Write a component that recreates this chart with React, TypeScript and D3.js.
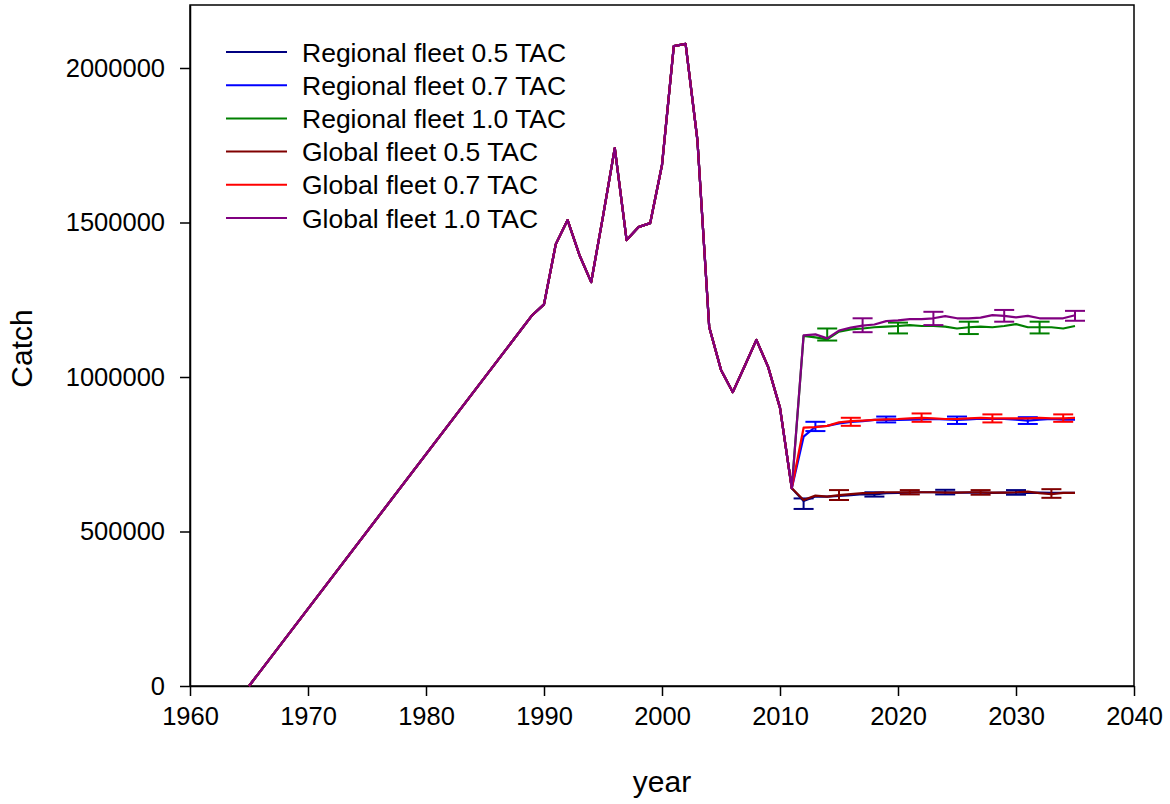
import React, { useEffect, useRef } from 'react';
import * as d3 from 'd3';

// historical catch, shared by every scenario
const histYears = [1965, 1989, 1990, 1991, 1992, 1993, 1994, 1995, 1996, 1997, 1998, 1999, 2000, 2001, 2002, 2003, 2004, 2005, 2006, 2007, 2008, 2009, 2010, 2011];
const histCatch = [0, 1200000, 1235000, 1430000, 1508000, 1395000, 1307000, 1520000, 1741000, 1443000, 1485000, 1498000, 1686000, 2071000, 2078000, 1767000, 1162000, 1023000, 951000, 1035000, 1120000, 1032000, 900000, 640000];

// projection years 2012..2035
const projYears = [2012, 2013, 2014, 2015, 2016, 2017, 2018, 2019, 2020, 2021, 2022, 2023, 2024, 2025, 2026, 2027, 2028, 2029, 2030, 2031, 2032, 2033, 2034, 2035];

const regional05 = [599000, 613000, 613000, 615000, 618000, 621000, 620000, 624000, 625000, 626000, 627000, 627000, 627000, 626000, 626000, 626000, 625000, 626000, 626000, 625000, 626000, 625000, 625000, 625000];
const regional07 = [807000, 839000, 842000, 850000, 855000, 857000, 861000, 862000, 861000, 862000, 863000, 864000, 863000, 861000, 863000, 865000, 864000, 864000, 862000, 859000, 862000, 864000, 862000, 862000];
const regional10 = [1133000, 1128000, 1122000, 1147000, 1154000, 1157000, 1161000, 1163000, 1165000, 1168000, 1165000, 1165000, 1163000, 1157000, 1161000, 1163000, 1161000, 1165000, 1171000, 1161000, 1161000, 1161000, 1157000, 1165000];
const global05 = [602000, 616000, 613000, 618000, 621000, 624000, 625000, 627000, 627000, 627000, 627000, 627000, 626000, 626000, 627000, 627000, 626000, 626000, 627000, 629000, 624000, 621000, 625000, 625000];
const global07 = [836000, 838000, 842000, 853000, 857000, 859000, 861000, 863000, 864000, 866000, 868000, 866000, 864000, 864000, 866000, 868000, 866000, 866000, 866000, 866000, 868000, 866000, 866000, 868000];
const global10 = [1135000, 1138000, 1125000, 1150000, 1160000, 1166000, 1170000, 1181000, 1183000, 1187000, 1187000, 1190000, 1197000, 1190000, 1190000, 1192000, 1200000, 1198000, 1193000, 1198000, 1190000, 1190000, 1190000, 1200000];

// error bars: [year, low, high]
const regional05Err = [[2012, 573000, 607000], [2018, 613000, 627000], [2024, 620000, 635000], [2030, 619000, 634000]];
const regional07Err = [[2013, 825000, 855000], [2019, 853000, 872000], [2025, 848000, 872000], [2031, 848000, 870000]];
const regional10Err = [[2014, 1118000, 1157000], [2020, 1141000, 1176000], [2026, 1139000, 1179000], [2032, 1141000, 1179000]];
const global05Err = [[2015, 602000, 634000], [2021, 620000, 634000], [2027, 619000, 634000], [2033, 609000, 637000]];
const global07Err = [[2016, 842000, 868000], [2022, 855000, 882000], [2028, 853000, 879000], [2034, 855000, 879000]];
const global10Err = [[2017, 1145000, 1190000], [2023, 1168000, 1211000], [2029, 1179000, 1217000], [2035, 1182000, 1214000]];

const seriesNames = ['Regional fleet 0.5 TAC', 'Regional fleet 0.7 TAC', 'Regional fleet 1.0 TAC', 'Global fleet 0.5 TAC', 'Global fleet 0.7 TAC', 'Global fleet 1.0 TAC'];
const seriesColors = ['#000080', '#0000ff', '#008000', '#800000', '#ff0000', '#800080'];
const seriesValues = [regional05, regional07, regional10, global05, global07, global10];
const seriesErrors = [regional05Err, regional07Err, regional10Err, global05Err, global07Err, global10Err];

const xTicks = [1960, 1970, 1980, 1990, 2000, 2010, 2020, 2030, 2040];
const yTicks = [0, 500000, 1000000, 1500000, 2000000];

const App = () => {
  const ref = useRef<SVGSVGElement>(null);

  useEffect(() => {
    const width = 1170;
    const height = 804;
    const margin = { top: 5, right: 36, bottom: 118, left: 190 };
    const innerW = width - margin.left - margin.right;
    const innerH = height - margin.top - margin.bottom;
    const font = 'Arial, "Liberation Sans", sans-serif';

    const root = d3.select(ref.current);
    root.selectAll('*').remove();

    const svg = root.append('g')
      .attr('transform', 'translate(' + margin.left + ',' + margin.top + ')');

    const x = d3.scaleLinear().domain([1960, 2040]).range([0, innerW]);
    const y = d3.scaleLinear().domain([0, 2000000 * innerH / 618]).range([innerH, 0]);

    // frame
    svg.append('rect')
      .attr('width', innerW)
      .attr('height', innerH)
      .attr('fill', 'none')
      .attr('stroke', '#000')
      .attr('stroke-width', 1.5);

    // x axis
    const xAxis = svg.append('g')
      .attr('transform', 'translate(0,' + innerH + ')')
      .call(d3.axisBottom(x).tickValues(xTicks).tickFormat(d3.format('d')).tickSize(10).tickSizeOuter(0));
    xAxis.select('.domain').attr('stroke-width', 1.5);
    xAxis.selectAll('.tick line').attr('stroke-width', 1.5);
    xAxis.selectAll('.tick text')
      .attr('font-family', font)
      .attr('font-size', 25.5)
      .attr('fill', '#000')
      .attr('dy', '1em');

    // y axis
    const yAxis = svg.append('g')
      .call(d3.axisLeft(y).tickValues(yTicks).tickFormat(d3.format('d')).tickSize(10).tickSizeOuter(0));
    yAxis.select('.domain').attr('stroke-width', 1.5);
    yAxis.selectAll('.tick text')
      .attr('font-family', font)
      .attr('font-size', 25.5)
      .attr('fill', '#000')
      .attr('x', -25);
    yAxis.selectAll('.tick line').attr('stroke-width', 1.5);

    // axis titles
    svg.append('text')
      .attr('x', innerW / 2)
      .attr('y', innerH + 106)
      .attr('text-anchor', 'middle')
      .attr('font-family', font)
      .attr('font-size', 30)
      .text('year');

    svg.append('text')
      .attr('transform', 'translate(' + (-158) + ',' + (innerH / 2 + 3) + ') rotate(-90)')
      .attr('text-anchor', 'middle')
      .attr('font-family', font)
      .attr('font-size', 30)
      .text('Catch');

    const line = d3.line<[number, number]>()
      .x(d => x(d[0]))
      .y(d => y(d[1]));

    seriesValues.forEach((vals, i) => {
      const pts: [number, number][] = histYears.map((yr, j) => [yr, histCatch[j]] as [number, number])
        .concat(projYears.map((yr, j) => [yr, vals[j]] as [number, number]));
      svg.append('path')
        .datum(pts)
        .attr('fill', 'none')
        .attr('stroke', seriesColors[i])
        .attr('stroke-width', 2.2)
        .attr('stroke-linejoin', 'round')
        .attr('d', line);

      const err = svg.append('g').attr('stroke', seriesColors[i]).attr('stroke-width', 2);
      seriesErrors[i].forEach(e => {
        const cx = x(e[0]);
        err.append('line').attr('x1', cx).attr('x2', cx).attr('y1', y(e[1])).attr('y2', y(e[2]));
        err.append('line').attr('x1', cx - 10).attr('x2', cx + 10).attr('y1', y(e[1])).attr('y2', y(e[1]));
        err.append('line').attr('x1', cx - 10).attr('x2', cx + 10).attr('y1', y(e[2])).attr('y2', y(e[2]));
      });
    });

    // legend
    const legend = svg.append('g').attr('transform', 'translate(36,47)');
    seriesNames.forEach((name, i) => {
      const row = legend.append('g').attr('transform', 'translate(0,' + i * 33.2 + ')');
      row.append('line')
        .attr('x1', 0).attr('x2', 61)
        .attr('stroke', seriesColors[i])
        .attr('stroke-width', 2);
      row.append('text')
        .attr('x', 76)
        .attr('dy', '0.36em')
        .attr('font-family', font)
        .attr('font-size', 26.5)
        .text(name);
    });
  }, []);

  return (
    <svg ref={ref} width={1170} height={804}
      style={{ position: 'absolute', left: 0, top: 0, background: '#fff' }} />
  );
};

export default App;
